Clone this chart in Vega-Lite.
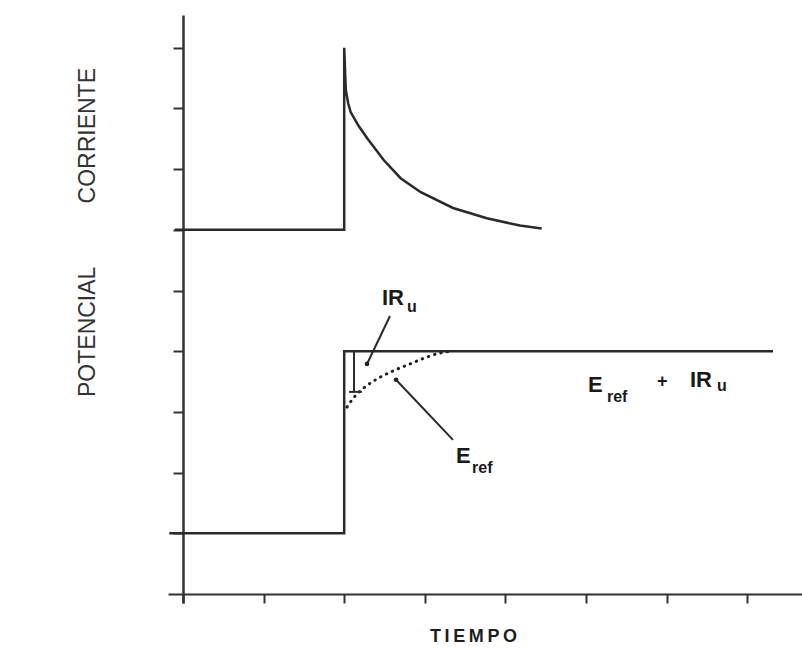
{
  "$schema": "https://vega.github.io/schema/vega-lite/v6.json",
  "width": 634,
  "height": 588,
  "autosize": {"type": "none"},
  "padding": {"left": 168, "top": 15, "right": 0, "bottom": 45},
  "background": "white",
  "config": {"view": {"stroke": null}, "font": "Liberation Sans"},
  "datasets": {
    "current": [
      {"t": -0.1, "v": 6.0, "o": 1},
      {"t": 2.0, "v": 6.0, "o": 2},
      {"t": 2.0, "v": 9.0, "o": 3},
      {"t": 2.02, "v": 8.3, "o": 4},
      {"t": 2.05, "v": 8.08, "o": 5},
      {"t": 2.08, "v": 7.94, "o": 6},
      {"t": 2.18, "v": 7.71, "o": 7},
      {"t": 2.29, "v": 7.5, "o": 8},
      {"t": 2.49, "v": 7.15, "o": 9},
      {"t": 2.7, "v": 6.85, "o": 10},
      {"t": 2.95, "v": 6.62, "o": 11},
      {"t": 3.35, "v": 6.36, "o": 12},
      {"t": 3.77, "v": 6.19, "o": 13},
      {"t": 4.18, "v": 6.07, "o": 14},
      {"t": 4.45, "v": 6.02, "o": 15}
    ],
    "potential": [
      {"t": -0.17, "v": 1.0, "o": 1},
      {"t": 2.0, "v": 1.0, "o": 2},
      {"t": 2.0, "v": 4.0, "o": 3},
      {"t": 7.32, "v": 4.0, "o": 4}
    ],
    "eref": [
      {"t": 2.035, "v": 3.08},
      {"t": 2.134, "v": 3.26},
      {"t": 2.258, "v": 3.41},
      {"t": 2.444, "v": 3.57},
      {"t": 2.63, "v": 3.69},
      {"t": 2.816, "v": 3.79},
      {"t": 3.0, "v": 3.89},
      {"t": 3.19, "v": 3.97},
      {"t": 3.34, "v": 4.0}
    ],
    "segments": [
      {"t": 2.122, "v": 4.0, "t2": 2.122, "v2": 3.33},
      {"t": 2.06, "v": 3.33, "t2": 2.22, "v2": 3.33},
      {"t": 2.568, "v": 4.58, "t2": 2.283, "v2": 3.79},
      {"t": 2.643, "v": 3.53, "t2": 3.35, "v2": 2.54}
    ],
    "dots": [
      {"t": 2.283, "v": 3.79},
      {"t": 2.643, "v": 3.53}
    ],
    "bigLabels": [
      {"t": 2.469, "v": 4.76, "label": "IR"},
      {"t": 5.025, "v": 3.33, "label": "E"},
      {"t": 6.29, "v": 3.41, "label": "IR"},
      {"t": 3.387, "v": 2.16, "label": "E"}
    ],
    "subLabels": [
      {"t": 2.779, "v": 4.65, "label": "u"},
      {"t": 5.26, "v": 3.16, "label": "ref"},
      {"t": 6.625, "v": 3.35, "label": "u"},
      {"t": 3.586, "v": 1.99, "label": "ref"}
    ],
    "plus": [
      {"t": 5.88, "v": 3.41, "label": "+"}
    ],
    "titles": [
      {"t": -1.18, "v": 7.55, "label": "CORRIENTE"},
      {"t": -1.18, "v": 4.32, "label": "POTENCIAL"}
    ]
  },
  "encoding": {
    "x": {
      "field": "t",
      "type": "quantitative",
      "scale": {"domain": [-0.1861, 7.68], "nice": false, "zero": false},
      "axis": {
        "values": [0, 1, 2, 3, 4, 5, 6, 7],
        "labels": false,
        "grid": false,
        "tickSize": 9,
        "tickWidth": 2,
        "tickColor": "#333333",
        "domainColor": "#333333",
        "domainWidth": 2,
        "offset": -9,
        "title": "T\u2009I\u2009E\u2009M\u2009P\u2009O",
        "titleFont": "Liberation Sans",
        "titleFontWeight": "bold",
        "titleFontSize": 18,
        "titleColor": "#1e1e1e",
        "titlePadding": 23,
        "titleX": 305,
        "titleAlign": "center"
      }
    },
    "y": {
      "field": "v",
      "type": "quantitative",
      "scale": {"domain": [-0.148, 9.539], "nice": false, "zero": false},
      "axis": {
        "values": [1, 2, 3, 4, 5, 6, 7, 8, 9],
        "labels": false,
        "grid": false,
        "tickSize": 10,
        "tickWidth": 2,
        "tickColor": "#333333",
        "domainColor": "#333333",
        "domainWidth": 2.5,
        "offset": -15,
        "title": null
      }
    }
  },
  "layer": [
    {
      "data": {"name": "current"},
      "mark": {"type": "line", "color": "#2a2a2a", "strokeWidth": 2.5},
      "encoding": {"order": {"field": "o", "type": "quantitative"}}
    },
    {
      "data": {"name": "potential"},
      "mark": {"type": "line", "color": "#2a2a2a", "strokeWidth": 2.5},
      "encoding": {"order": {"field": "o", "type": "quantitative"}}
    },
    {
      "data": {"name": "eref"},
      "mark": {"type": "line", "color": "#222222", "strokeWidth": 3, "strokeDash": [0.5, 6], "strokeCap": "round", "interpolate": "monotone"},
      "encoding": {}
    },
    {
      "data": {"name": "segments"},
      "mark": {"type": "rule", "color": "#2a2a2a", "strokeWidth": 2},
      "encoding": {
        "x2": {"field": "t2"},
        "y2": {"field": "v2"}
      }
    },
    {
      "data": {"name": "dots"},
      "mark": {"type": "point", "filled": true, "color": "#222222", "size": 22, "opacity": 1},
      "encoding": {}
    },
    {
      "data": {"name": "bigLabels"},
      "mark": {"type": "text", "align": "left", "baseline": "alphabetic", "fontSize": 22, "fontWeight": "bold", "color": "#1a1a1a"},
      "encoding": {"text": {"field": "label"}}
    },
    {
      "data": {"name": "subLabels"},
      "mark": {"type": "text", "align": "left", "baseline": "alphabetic", "fontSize": 16, "fontWeight": "bold", "color": "#1a1a1a"},
      "encoding": {"text": {"field": "label"}}
    },
    {
      "data": {"name": "plus"},
      "mark": {"type": "text", "align": "left", "baseline": "alphabetic", "fontSize": 18, "fontWeight": "bold", "color": "#1a1a1a"},
      "encoding": {"text": {"field": "label"}}
    },
    {
      "data": {"name": "titles"},
      "mark": {"type": "text", "align": "center", "baseline": "middle", "angle": 270, "fontSize": 23, "color": "#333333"},
      "encoding": {"text": {"field": "label"}}
    }
  ]
}
